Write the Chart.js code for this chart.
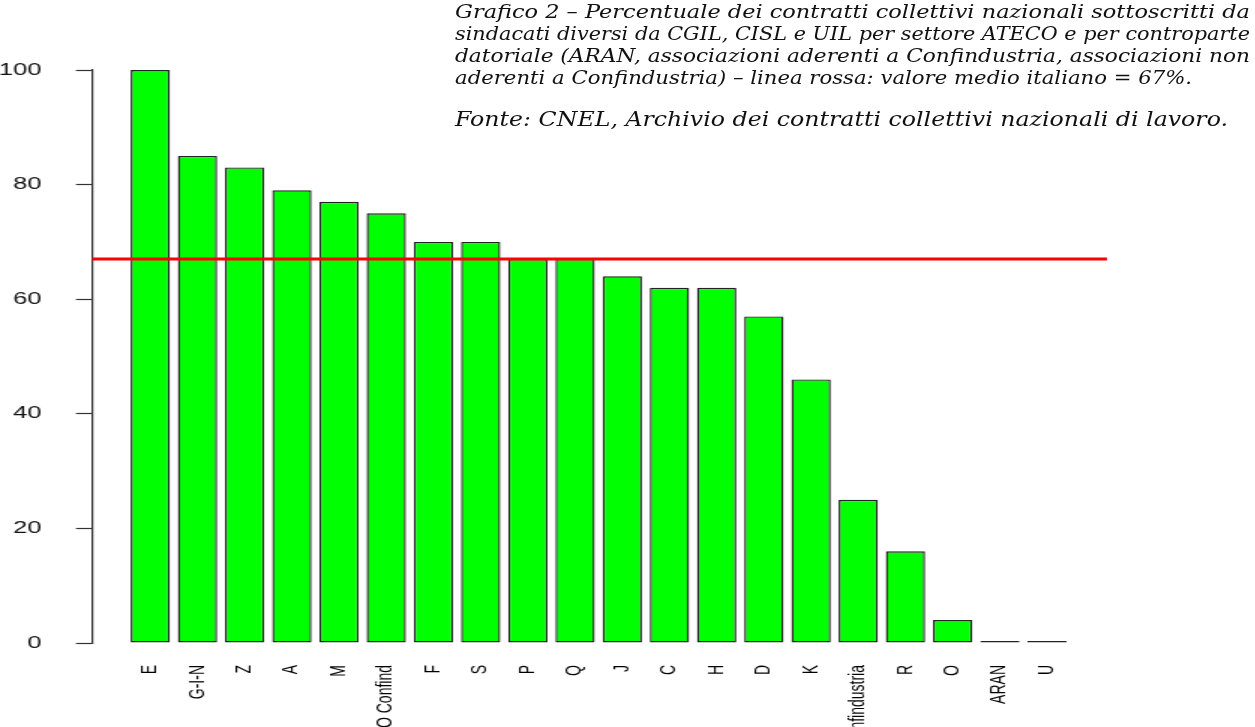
<!DOCTYPE html>
<html lang="it">
<head>
<meta charset="utf-8">
<title>Contratti collettivi nazionali</title>
<script src="https://cdn.jsdelivr.net/npm/chart.js@4/dist/chart.umd.min.js"></script>
<style>
  html, body { margin: 0; padding: 0; background: #fff; overflow: hidden; }
  body { width: 1255px; height: 727px; position: relative; }
  /* il grafico viene disegnato stretto e poi allargato in orizzontale */
  #wrap { position: absolute; left: 0; top: 0; width: 837px; height: 727px;
          transform: scaleX(1.5); transform-origin: 0 0; }
  .nota { position: absolute; left: 455px; color: #111;
          font-family: "DejaVu Serif", serif; font-style: italic; }
  .nota div { white-space: nowrap; transform-origin: 0 0; }
  .nota span { display: inline-block; }
  #titolo { top: 1px; font-size: 18px; line-height: 22px; }
  #fonte { top: 106px; font-size: 20px; line-height: 26px; }
</style>
</head>
<body>
<div id="wrap"><canvas id="grafico"></canvas></div>
<div id="titolo" class="nota">
  <div data-larghezza="795"><span>Grafico 2 – Percentuale dei contratti collettivi nazionali sottoscritti da</span></div>
  <div data-larghezza="795"><span>sindacati diversi da CGIL, CISL e UIL per settore ATECO e per controparte</span></div>
  <div data-larghezza="795"><span>datoriale (ARAN, associazioni aderenti a Confindustria, associazioni non</span></div>
  <div data-larghezza="737"><span>aderenti a Confindustria) – linea rossa: valore medio italiano = 67%.</span></div>
</div>
<div id="fonte" class="nota">
  <div data-larghezza="773"><span>Fonte: CNEL, Archivio dei contratti collettivi nazionali di lavoro.</span></div>
</div>

<script>
// ogni riga del titolo viene allargata fino alla sua giustezza
document.querySelectorAll('[data-larghezza]').forEach(riga => {
  const naturale = riga.firstElementChild.getBoundingClientRect().width;
  riga.style.transform = `scaleX(${Number(riga.dataset.larghezza) / naturale})`;
});

// settori ATECO e controparti datoriali
const settori = ['E', 'G-I-N', 'Z', 'A', 'M', 'NO Confind', 'F', 'S', 'P', 'Q',
                 'J', 'C', 'H', 'D', 'K', 'Confindustria', 'R', 'O', 'ARAN', 'U'];
// % di contratti firmati da sindacati diversi da CGIL, CISL e UIL
const percentuali = [100, 85, 83, 79, 77, 75, 70, 70, 67, 67,
                     64, 62, 62, 57, 46, 25, 16, 4, 0, 0];
const valoreMedio = 67;
const tickY = [0, 20, 40, 60, 80, 100];

Chart.defaults.font.family = '"Liberation Sans", Arial, sans-serif';
Chart.defaults.color = '#111';

// linea rossa del valore medio, su tutta l'area del grafico
const lineaMedia = {
  id: 'lineaMedia',
  afterDatasetsDraw(chart) {
    const { ctx, chartArea, scales } = chart;
    const y = scales.y.getPixelForValue(valoreMedio);
    ctx.save();
    ctx.strokeStyle = '#ff0000';
    ctx.lineWidth = 3;
    ctx.beginPath();
    ctx.moveTo(chartArea.left, y);
    ctx.lineTo(chartArea.right, y);
    ctx.stroke();
    ctx.restore();
  }
};

const ctx = document.getElementById('grafico').getContext('2d');
new Chart(ctx, {
  type: 'bar',
  data: {
    datasets: [{
      data: percentuali.map((v, i) => ({ x: i, y: v })),
      backgroundColor: '#00ff00',
      borderColor: '#222',
      borderWidth: 1.4,
      borderSkipped: false,
      minBarLength: 2,
      categoryPercentage: 1,
      barPercentage: 0.833
    }]
  },
  options: {
    responsive: true,
    maintainAspectRatio: false,
    animation: false,
    layout: { padding: { top: 70, right: 99, bottom: 0, left: 0 } },
    plugins: {
      legend: { display: false },
      tooltip: { enabled: false }
    },
    scales: {
      x: {
        type: 'linear',
        offset: false,
        min: -1.235,
        max: 20.27,
        grid: { display: false, drawTicks: false },
        border: { display: false },
        afterBuildTicks: (scale) => {
          scale.ticks = settori.map((_, i) => ({ value: i }));
        },
        afterFit: (scale) => { scale.height = 84; },
        ticks: {
          autoSkip: false,
          minRotation: 90,
          maxRotation: 90,
          padding: 22,
          font: { size: 14 },
          color: '#000',
          callback: (v) => settori[v]
        }
      },
      y: {
        min: 0,
        max: 100,
        afterBuildTicks: (scale) => {
          scale.ticks = tickY.map(v => ({ value: v }));
        },
        afterFit: (scale) => { scale.width = 61.33; },
        grid: {
          drawOnChartArea: false,
          drawTicks: true,
          tickLength: 10.67,
          tickColor: '#333',
          tickWidth: 1.2
        },
        border: { display: true, color: '#333', width: 1.2 },
        ticks: {
          padding: 23,
          font: { size: 17 },
          color: '#111'
        }
      }
    }
  },
  plugins: [lineaMedia]
});
</script>
</body>
</html>
